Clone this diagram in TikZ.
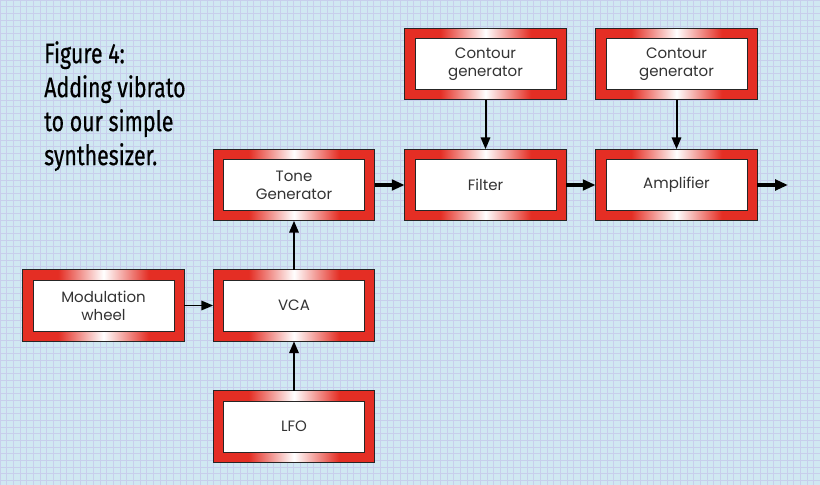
\documentclass[tikz,border=0pt]{standalone}
\usepackage{fontspec}
\newfontfamily\titlefont{Fira Sans}[FakeStretch=0.76,FakeBold=0.5]
\newfontfamily\boxfamily{Poppins}
\usetikzlibrary{arrows.meta,backgrounds}
\definecolor{paper}{RGB}{208,232,242}
\definecolor{gridline}{RGB}{200,206,236}
\definecolor{frame}{RGB}{228,46,36}
\pgfdeclarehorizontalshading{redglow}{100bp}{color(0bp)=(frame); color(36bp)=(frame); color(50bp)=(white); color(64bp)=(frame); color(100bp)=(frame)}
\newcommand\boxfont{\boxfamily\fontsize{12.8}{15.5}\selectfont}
\begin{document}
\begin{tikzpicture}[x=0.03cm,y=-0.03cm,
  unit/.style={draw=black!85,line width=0.6pt,fill=white,text=black!80,minimum width=4.23cm,minimum height=1.53cm,outer sep=0.31cm,align=center,font=\boxfont},
  sig/.style={line width=1.7pt,-{Triangle[length=10pt,width=8pt]}},
  bigsig/.style={line width=3.2pt,-{Triangle[length=11pt,width=9pt]}}]
\useasboundingbox (0,0) rectangle (820,485);
\node[font=\titlefont\fontsize{24}{29}\selectfont,anchor=north west,align=left,inner sep=0pt] (title) at (44,41) {Figure 4:\\Adding vibrato\\to our simple\\synthesizer.};
\node[unit] (tone) at (294,185) {Tone\\Generator};
\node[unit] (filter) at (485.5,185) {Filter};
\node[unit] (amp) at (676.5,185) {Amplifier};
\node[unit] (cfilter) at (485.5,64) {Contour\\generator};
\node[unit] (camp) at (676.5,64) {Contour\\generator};
\node[unit] (wheel) at (103.5,305.5) {Modulation\\wheel};
\node[unit] (vca) at (294,305.5) {VCA};
\node[unit] (lfo) at (294,426.5) {LFO};
\coordinate (out) at (788,185);
% paper, grid and red frames behind the boxes
\begin{scope}[on background layer]
\fill[paper] (0,0) rectangle (820,485);
\draw[gridline,line width=0.3pt,step=0.2cm] (0,0) grid (820,485);
\foreach \n in {tone,filter,amp,cfilter,camp,wheel,vca,lfo}
  \shade[shading=redglow,draw=black!85,line width=0.6pt] (\n.north west) rectangle (\n.south east);
\end{scope}
\draw[bigsig] (tone) -- (filter);
\draw[bigsig] (filter) -- (amp);
\draw[bigsig] (amp) -- (out);
\draw[sig] (cfilter) -- (filter);
\draw[sig] (camp) -- (amp);
\draw[sig] (wheel) -- (vca);
\draw[sig] (vca) -- (tone);
\draw[sig] (lfo) -- (vca);
\end{tikzpicture}
\end{document}
